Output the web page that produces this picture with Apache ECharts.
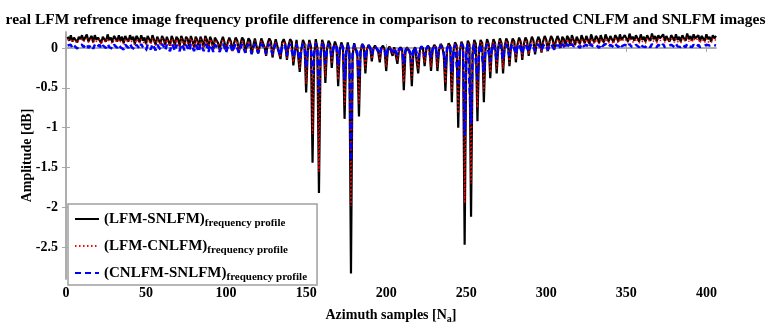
<!DOCTYPE html>
<html>
<head>
<meta charset="utf-8">
<script src="https://cdn.jsdelivr.net/npm/echarts@6/dist/echarts.min.js"></script>
<style>html,body{margin:0;padding:0;background:#fff;}#c{width:771px;height:329px;}</style>
</head>
<body>
<div id="c"></div>
<script>
// Tick labels
const xTicks = [0, 50, 100, 150, 200, 250, 300, 350, 400];
const yTicks = [0, -0.5, -1, -1.5, -2, -2.5];
const seriesNames = ['LFM-SNLFM', 'LFM-CNLFM', 'CNLFM-SNLFM'];

// (LFM-SNLFM) frequency profile, samples 1..406
const lfmSnlfm = [
0.14,0.09,0.16,0.08,0.13,0.15,0.07,0.14,0.11,0.16,
0.09,0.13,0.17,0.08,0.12,0.15,0.07,0.16,0.10,0.13,
0.15,0.06,0.14,0.12,0.08,0.17,0.10,0.13,0.07,0.15,
0.12,0.08,0.16,0.09,0.14,0.06,0.15,0.11,0.08,0.16,
0.10,0.14,0.05,0.15,0.12,0.07,0.16,0.09,0.13,0.05,
0.15,0.11,0.06,0.16,0.10,0.04,0.14,0.12,0.05,0.15,
0.11,0.04,0.14,0.12,0.03,0.15,0.10,0.03,0.14,0.11,
0.02,0.15,0.10,0.03,0.14,0.11,0.02,0.15,0.09,0.01,
0.14,0.10,0.00,0.14,0.09,0.01,0.15,0.10,-0.01,0.14,
0.09,-0.02,0.13,0.11,0.06,-0.03,0.08,0.14,0.07,-0.04,
0.07,0.13,0.08,-0.04,0.06,0.13,0.09,-0.05,0.05,0.13,
0.10,-0.06,0.04,0.12,0.09,-0.08,0.03,0.12,0.10,-0.07,
0.02,0.12,0.11,0.01,-0.10,0.06,0.12,0.08,-0.12,0.02,
0.11,0.10,-0.06,-0.14,0.07,0.11,0.05,-0.15,0.03,0.11,
0.08,-0.22,-0.05,0.10,0.08,-0.30,-0.02,0.10,0.05,-0.56,
-0.05,0.10,0.02,-1.44,-0.10,0.11,0.00,-1.82,-0.12,0.10,
0.04,-0.44,-0.02,0.09,0.05,-0.25,0.00,0.08,0.02,-0.48,
-0.03,0.07,0.01,-0.89,-0.08,0.07,-0.05,-2.83,-0.10,0.06,
0.04,-0.10,-0.86,-0.05,0.05,0.02,-0.32,-0.02,0.04,0.01,
-0.17,-0.01,0.03,0.02,-0.05,-0.18,0.00,0.03,-0.02,-0.29,
-0.03,0.02,0.00,-0.10,0.01,0.02,-0.20,-0.02,0.01,-0.03,
-0.53,-0.05,0.01,-0.01,-0.08,-0.48,-0.04,0.01,0.00,-0.32,
-0.03,0.02,-0.01,-0.23,-0.02,0.03,0.00,-0.29,-0.02,0.04,
0.01,-0.29,-0.03,0.05,0.02,-0.10,-0.54,-0.02,0.06,0.02,
-0.68,-0.04,0.07,0.03,-1.00,-0.05,0.08,0.03,-2.47,-0.06,
0.09,0.04,-2.12,-0.05,0.10,0.05,-0.92,-0.03,0.10,0.06,
-0.68,-0.02,0.11,0.05,-0.38,0.00,0.11,0.06,-0.32,0.01,
0.12,0.06,-0.32,0.02,0.12,0.07,-0.23,0.03,0.12,0.08,
-0.18,0.04,0.13,0.08,-0.15,0.05,0.13,0.09,-0.10,0.06,
0.14,0.09,-0.08,0.07,0.14,0.10,-0.06,0.08,0.15,0.10,
-0.04,0.08,0.15,0.11,-0.02,0.09,0.15,0.10,0.00,0.14,
0.11,0.02,0.15,0.12,0.03,0.16,0.10,0.04,0.14,0.12,
0.05,0.16,0.11,0.06,0.15,0.13,0.05,0.17,0.11,0.07,
0.15,0.12,0.06,0.16,0.10,0.07,0.17,0.12,0.08,0.15,
0.11,0.07,0.16,0.13,0.08,0.17,0.10,0.09,0.16,0.12,
0.08,0.18,0.11,0.14,0.09,0.16,0.12,0.08,0.17,0.10,
0.14,0.08,0.16,0.12,0.09,0.18,0.11,0.15,0.08,0.16,
0.12,0.10,0.17,0.09,0.15,0.11,0.08,0.16,0.13,0.09,
0.17,0.10,0.14,0.08,0.16,0.12,0.09,0.18,0.11,0.15,
0.09,0.17,0.12,0.10,0.16,0.08,0.15,0.13,0.09,0.17,
0.11,0.14,0.08,0.16,0.12,0.15
];

// (LFM-CNLFM) frequency profile
const lfmCnlfm = [
0.10,0.08,0.11,0.07,0.10,0.11,0.06,0.10,0.09,0.11,
0.08,0.10,0.12,0.07,0.09,0.11,0.06,0.11,0.08,0.10,
0.11,0.05,0.10,0.09,0.07,0.12,0.08,0.10,0.06,0.11,
0.09,0.07,0.11,0.08,0.10,0.05,0.11,0.09,0.07,0.11,
0.08,0.10,0.04,0.11,0.09,0.06,0.11,0.08,0.10,0.04,
0.11,0.09,0.05,0.12,0.08,0.03,0.11,0.10,0.04,0.12,
0.09,0.03,0.11,0.10,0.02,0.12,0.08,0.02,0.11,0.09,
0.01,0.12,0.08,0.02,0.11,0.09,0.01,0.12,0.08,0.00,
0.11,0.08,-0.01,0.11,0.07,0.00,0.12,0.08,-0.02,0.11,
0.07,-0.02,0.10,0.09,0.04,-0.03,0.06,0.11,0.05,-0.04,
0.05,0.10,0.06,-0.04,0.04,0.10,0.07,-0.05,0.03,0.10,
0.08,-0.05,0.02,0.09,0.07,-0.07,0.01,0.09,0.08,-0.06,
0.00,0.09,0.09,0.00,-0.09,0.04,0.09,0.06,-0.10,0.01,
0.08,0.08,-0.05,-0.12,0.05,0.08,0.04,-0.13,0.02,0.08,
0.06,-0.18,-0.04,0.07,0.06,-0.25,-0.02,0.07,0.04,-0.45,
-0.04,0.07,0.01,-1.08,-0.08,0.08,-0.01,-1.55,-0.10,0.07,
0.03,-0.36,-0.02,0.06,0.03,-0.20,-0.01,0.05,0.01,-0.40,
-0.03,0.05,0.00,-0.72,-0.07,0.05,-0.05,-1.98,-0.08,0.04,
0.03,-0.09,-0.70,-0.04,0.04,0.01,-0.26,-0.02,0.03,0.00,
-0.14,-0.01,0.02,0.01,-0.04,-0.15,0.00,0.02,-0.02,-0.24,
-0.03,0.01,0.00,-0.08,0.00,0.01,-0.16,-0.02,0.00,-0.03,
-0.43,-0.04,0.00,-0.01,-0.07,-0.39,-0.03,0.00,-0.01,-0.26,
-0.03,0.01,-0.01,-0.19,-0.02,0.02,0.00,-0.24,-0.02,0.03,
0.00,-0.24,-0.03,0.04,0.01,-0.08,-0.44,-0.02,0.04,0.01,
-0.55,-0.04,0.05,0.02,-0.82,-0.05,0.06,0.02,-1.95,-0.05,
0.07,0.03,-1.70,-0.04,0.07,0.04,-0.75,-0.03,0.08,0.04,
-0.55,-0.02,0.08,0.04,-0.31,0.00,0.08,0.05,-0.26,0.01,
0.09,0.05,-0.26,0.02,0.09,0.05,-0.19,0.02,0.09,0.06,
-0.15,0.03,0.10,0.06,-0.12,0.04,0.10,0.07,-0.08,0.05,
0.10,0.07,-0.06,0.05,0.10,0.08,-0.05,0.06,0.11,0.08,
-0.03,0.06,0.11,0.08,-0.02,0.07,0.11,0.08,0.00,0.10,
0.08,0.02,0.11,0.09,0.03,0.12,0.08,0.03,0.10,0.09,
0.04,0.12,0.08,0.05,0.11,0.10,0.04,0.12,0.08,0.05,
0.11,0.09,0.05,0.12,0.08,0.05,0.12,0.09,0.06,0.11,
0.08,0.05,0.12,0.10,0.06,0.12,0.08,0.07,0.12,0.09,
0.06,0.13,0.08,0.10,0.07,0.12,0.09,0.06,0.12,0.08,
0.10,0.06,0.12,0.09,0.07,0.13,0.08,0.11,0.06,0.12,
0.09,0.07,0.12,0.07,0.11,0.08,0.06,0.12,0.10,0.07,
0.12,0.08,0.10,0.06,0.12,0.09,0.07,0.13,0.08,0.11,
0.07,0.12,0.09,0.08,0.12,0.06,0.11,0.10,0.07,0.12,
0.08,0.10,0.06,0.12,0.09,0.11
];

// (CNLFM-SNLFM) frequency profile
const cnlfmSnlfm = [
0.03,0.01,0.04,0.00,0.03,0.04,-0.01,0.03,0.02,0.04,
0.01,0.03,0.05,0.00,0.02,0.04,-0.01,0.04,0.01,0.03,
0.04,-0.01,0.03,0.02,0.00,0.05,0.01,0.03,-0.01,0.04,
0.02,0.00,0.04,0.01,0.03,-0.02,0.04,0.02,0.00,0.05,
0.01,0.03,-0.02,0.04,0.02,-0.01,0.05,0.01,0.03,-0.03,
0.04,0.02,-0.02,0.05,0.01,-0.03,0.04,0.03,-0.02,0.05,
0.02,-0.03,0.04,0.03,-0.04,0.05,0.02,-0.04,0.04,0.02,
-0.04,0.05,0.02,-0.03,0.04,0.02,-0.04,0.05,0.01,-0.04,
0.04,0.02,-0.05,0.05,0.01,-0.04,0.05,0.02,-0.05,0.04,
0.01,-0.05,0.04,0.03,0.00,-0.05,0.02,0.05,0.01,-0.06,
0.01,0.05,0.02,-0.05,0.01,0.05,0.03,-0.06,0.00,0.05,
0.03,-0.06,0.00,0.05,0.03,-0.07,0.00,0.05,0.04,-0.06,
-0.01,0.05,0.04,-0.01,-0.07,0.02,0.05,0.03,-0.08,0.00,
0.05,0.04,-0.04,-0.09,0.02,0.05,0.02,-0.10,0.01,0.05,
0.03,-0.12,-0.03,0.05,0.03,-0.15,-0.02,0.05,0.02,-0.25,
-0.03,0.05,0.01,-0.32,-0.05,0.06,0.00,-0.56,-0.06,0.05,
0.02,-0.20,-0.02,0.05,0.03,-0.10,0.00,0.05,0.01,-0.22,
-0.02,0.04,0.00,-0.40,-0.05,0.04,-0.04,-1.42,-0.06,0.04,
0.02,-0.06,-0.38,-0.03,0.04,0.01,-0.14,-0.01,0.03,0.00,
-0.08,-0.01,0.02,0.01,-0.03,-0.08,0.00,0.02,-0.02,-0.12,
-0.02,0.01,0.00,-0.05,0.00,0.02,-0.09,-0.01,0.01,-0.02,
-0.20,-0.03,0.01,-0.01,-0.05,-0.18,-0.02,0.01,0.00,-0.13,
-0.02,0.02,-0.01,-0.10,-0.01,0.02,0.00,-0.12,-0.01,0.03,
0.00,-0.12,-0.02,0.03,0.01,-0.05,-0.24,-0.01,0.04,0.01,
-0.30,-0.03,0.04,0.02,-0.45,-0.04,0.05,0.02,-1.10,-0.04,
0.05,0.03,-0.95,-0.03,0.05,0.03,-0.40,-0.02,0.05,0.03,
-0.30,-0.01,0.05,0.03,-0.17,0.00,0.05,0.03,-0.14,0.01,
0.05,0.03,-0.14,0.01,0.05,0.03,-0.10,0.01,0.05,0.04,
-0.08,0.02,0.05,0.04,-0.07,0.02,0.05,0.04,-0.05,0.02,
0.05,0.04,-0.04,0.02,0.05,0.04,-0.03,0.02,0.05,0.04,
-0.02,0.02,0.05,0.04,-0.02,0.03,0.05,0.03,-0.01,0.05,
0.03,-0.01,0.05,0.03,0.00,0.05,0.02,0.00,0.04,0.03,
0.00,0.05,0.02,0.01,0.04,0.03,0.00,0.05,0.02,0.01,
0.04,0.03,0.00,0.05,0.02,0.01,0.05,0.03,0.01,0.04,
0.02,0.01,0.05,0.03,0.01,0.05,0.02,0.01,0.04,0.03,
0.01,0.05,0.02,0.03,0.01,0.04,0.02,0.01,0.05,0.02,
0.03,0.01,0.04,0.02,0.01,0.05,0.02,0.03,0.01,0.04,
0.02,0.01,0.05,0.01,0.03,0.02,0.01,0.04,0.03,0.01,
0.05,0.02,0.03,0.01,0.04,0.02,0.01,0.05,0.02,0.03,
0.01,0.04,0.02,0.01,0.04,0.01,0.03,0.02,0.01,0.04,
0.02,0.03,0.01,0.04,0.02,0.03
];

const toPairs = arr => arr.map((v, i) => [i + 1, v]);
const FONT = 'Liberation Serif';
const AX = '#a8a8a8';

const chart = echarts.init(document.getElementById('c'), null, {renderer: 'canvas'});

const axisCommon = {
  axisLine: {show: true, lineStyle: {color: AX, width: 1.5}},
  axisTick: {show: true, inside: true, length: 4, lineStyle: {color: AX}},
  splitLine: {show: false}
};

const legendFmt = name => '{m|(' + name + ')}{s|frequency profile}';

chart.setOption({
  animation: false,
  backgroundColor: '#fff',
  title: {
    text: 'real LFM refrence image frequency profile difference in comparison to reconstructed CNLFM and SNLFM images',
    left: 'center', top: 7,
    textStyle: {fontFamily: FONT, fontWeight: 'bold', fontSize: 15.5, color: '#000'}
  },
  grid: {left: 66, right: 55, top: 32, bottom: 37},
  legend: {
    orient: 'vertical', left: 68, top: 204, width: 250,
    padding: [5, 10, 2, 6], itemGap: 7, itemWidth: 24, itemHeight: 14,
    backgroundColor: '#fff', borderColor: '#a0a0a0', borderWidth: 1.5,
    itemStyle: {opacity: 0},
    formatter: legendFmt,
    textStyle: {
      fontFamily: FONT, color: '#000',
      rich: {
        m: {fontFamily: FONT, fontWeight: 'bold', fontSize: 15, color: '#000', lineHeight: 20},
        s: {fontFamily: FONT, fontWeight: 'bold', fontSize: 11, color: '#000', padding: [9, 0, 0, 0], lineHeight: 20}
      }
    },
    data: seriesNames
  },
  xAxis: [
    Object.assign({}, axisCommon, {
      type: 'value', min: 0, max: 406, interval: 50, position: 'bottom',
      axisTick: Object.assign({}, axisCommon.axisTick, {customValues: xTicks}),
      axisLabel: {customValues: xTicks, fontFamily: FONT, fontWeight: 'bold', fontSize: 14, color: '#000', margin: 7},
      name: 'Azimuth samples [N{sub|a}]', nameLocation: 'middle', nameGap: 27, nameMoveOverlap: false,
      nameTextStyle: {fontFamily: FONT, fontWeight: 'bold', fontSize: 14, color: '#000',
        rich: {sub: {fontFamily: FONT, fontWeight: 'bold', fontSize: 10, color: '#000', padding: [8, 0, 0, 0]}}}
    }),
    Object.assign({}, axisCommon, {
      type: 'value', min: 0, max: 406, interval: 50, position: 'top',
      axisTick: Object.assign({}, axisCommon.axisTick, {customValues: xTicks}),
      axisLabel: {show: false}
    })
  ],
  yAxis: [
    Object.assign({}, axisCommon, {
      type: 'value', min: -2.9, max: 0.2, position: 'left',
      axisTick: Object.assign({}, axisCommon.axisTick, {customValues: yTicks}),
      axisLabel: {customValues: yTicks, fontFamily: FONT, fontWeight: 'bold', fontSize: 14, color: '#000', margin: 8},
      name: 'Amplitude [dB]', nameLocation: 'middle', nameGap: 32, nameRotate: 90, nameMoveOverlap: false,
      nameTextStyle: {fontFamily: FONT, fontWeight: 'bold', fontSize: 14, color: '#000'}
    }),
    Object.assign({}, axisCommon, {
      type: 'value', min: -2.9, max: 0.2, position: 'right',
      axisTick: Object.assign({}, axisCommon.axisTick, {customValues: yTicks}),
      axisLabel: {show: false}
    })
  ],
  series: [
    {name: seriesNames[0], type: 'line', data: toPairs(lfmSnlfm), showSymbol: false, symbol: 'none',
     lineStyle: {color: '#000', width: 2.2, type: 'solid'}, itemStyle: {color: '#000'}, z: 2},
    {name: seriesNames[1], type: 'line', data: toPairs(lfmCnlfm), showSymbol: false, symbol: 'none',
     lineStyle: {color: '#ff0000', width: 1.5, type: [1.5, 2.5]}, itemStyle: {color: '#ff0000'}, z: 3},
    {name: seriesNames[2], type: 'line', data: toPairs(cnlfmSnlfm), showSymbol: false, symbol: 'none',
     lineStyle: {color: '#0000ff', width: 2.5, type: [6, 4]}, itemStyle: {color: '#0000ff'}, z: 4}
  ]
});
</script>
</body>
</html>
